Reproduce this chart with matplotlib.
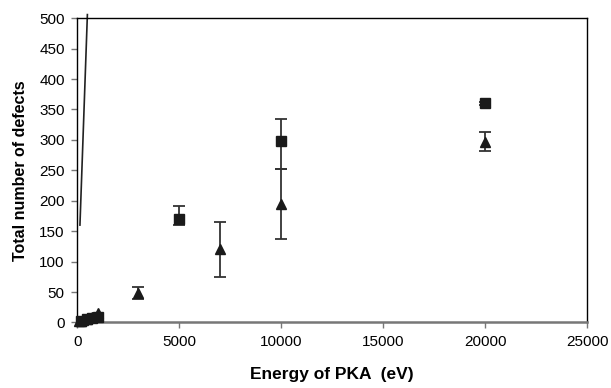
import matplotlib
matplotlib.use('Agg')
import matplotlib.pyplot as plt
import numpy as np

# triangles
tri_energy = np.array([100, 200, 300, 500, 700, 1000, 3000, 7000, 10000, 20000])
tri_defects = np.array([2, 3, 4, 6, 9, 15, 48, 120, 195, 297])
tri_err = np.array([0, 0, 0, 0, 0, 0, 10, 45, 58, 16])

# squares
sq_energy = np.array([200, 500, 700, 1000, 5000, 10000, 20000])
sq_defects = np.array([2, 5, 7, 9, 170, 298, 360])
sq_err_lo = np.array([0, 0, 0, 0, 10, 45, 3])
sq_err_hi = np.array([0, 0, 0, 0, 21, 37, 3])

# straight line near origin
line_energy = [130, 495]
line_defects = [160, 506]

plt.rcParams['font.family'] = ['Liberation Sans', 'DejaVu Sans']

fig = plt.figure(figsize=(6.11, 3.88), dpi=100)
ax = fig.add_axes([0.1265, 0.169, 0.8345, 0.784])

mcol = '#1a1a1a'
ecol = '#333333'

m = tri_err > 0
ax.errorbar(tri_energy[m], tri_defects[m], yerr=tri_err[m], fmt='none',
            ecolor=ecol, elinewidth=1.3, capsize=4.5, capthick=1.3, zorder=2)
m = (sq_err_lo + sq_err_hi) > 0
ax.errorbar(sq_energy[m], sq_defects[m], yerr=[sq_err_lo[m], sq_err_hi[m]], fmt='none',
            ecolor=ecol, elinewidth=1.3, capsize=4.5, capthick=1.3, zorder=2)

ax.plot(tri_energy, tri_defects, linestyle='none', marker='^', markersize=7.5,
        color=mcol, zorder=3, clip_on=False)
ax.plot(sq_energy, sq_defects, linestyle='none', marker='s', markersize=6.5,
        color=mcol, zorder=3, clip_on=False)

ax.plot(line_energy, line_defects, color='#222222', linewidth=1.2, clip_on=False, zorder=2)

ax.set_xlim(0, 25000)
ax.set_ylim(0, 500)
ax.set_xticks(np.arange(0, 25001, 5000))
ax.set_yticks(np.arange(0, 501, 50))
ax.tick_params(axis='both', direction='out', length=4, width=1, labelsize=11,
               color='#777777', pad=5)

for s in ['top', 'right', 'left']:
    ax.spines[s].set_color('black')
    ax.spines[s].set_linewidth(1)
ax.spines['bottom'].set_color('#777777')
ax.spines['bottom'].set_linewidth(1.8)

ax.set_xlabel('Energy of PKA  (eV)', fontsize=12.5, fontweight='bold', labelpad=13)
ax.set_ylabel('Total number of defects', fontsize=11.5, fontweight='bold', labelpad=8)

fig.savefig('out.png', dpi=100)
